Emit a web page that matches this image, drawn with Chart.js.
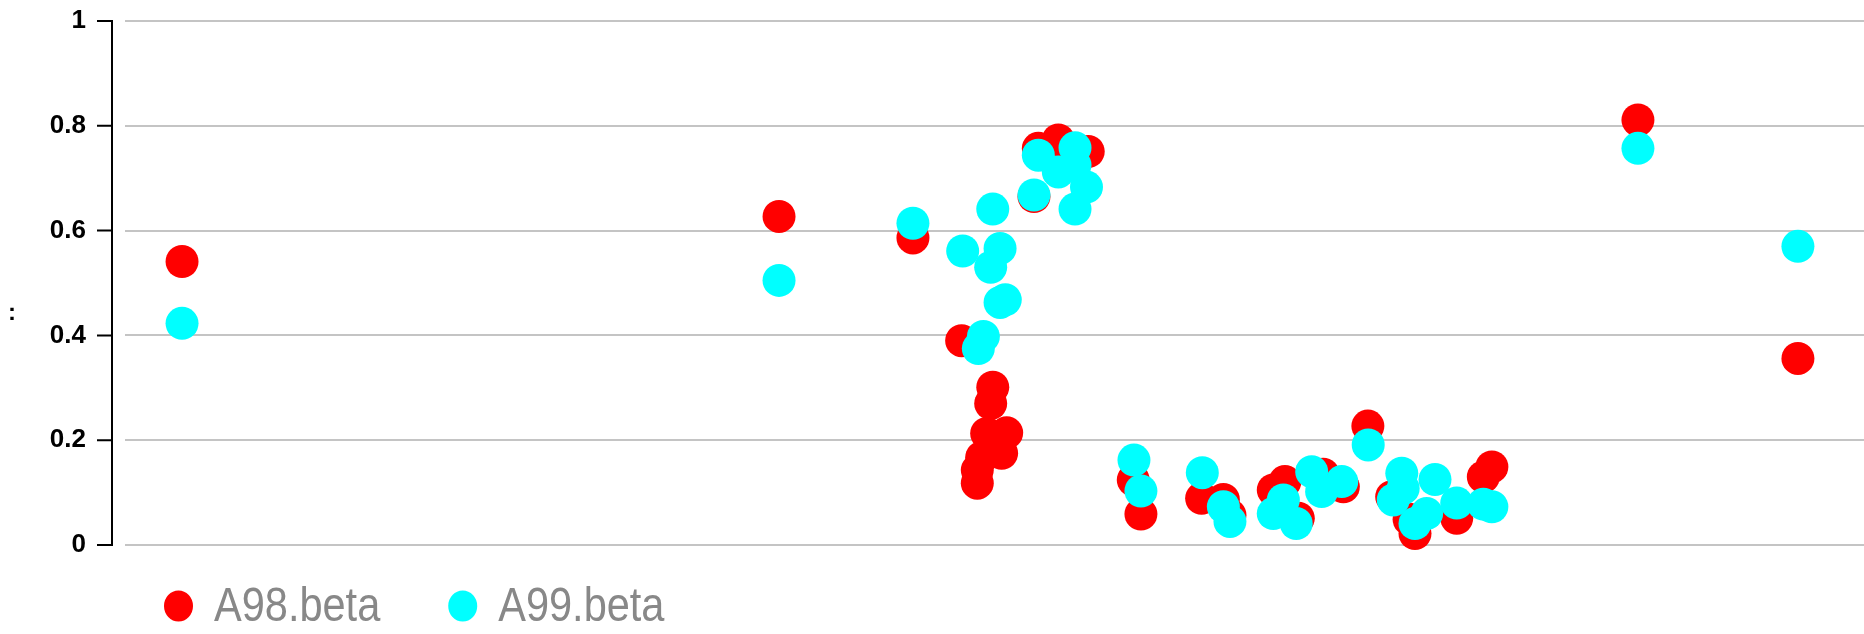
<!DOCTYPE html>
<html><head><meta charset="utf-8">
<script src="https://cdn.jsdelivr.net/npm/chart.js@4/dist/chart.umd.min.js"></script>
<style>html,body{margin:0;padding:0;background:#fff;overflow:hidden;}#wrap{width:1864px;height:634px;}canvas{display:block;}</style>
</head><body><div id="wrap"><canvas id="c" width="1864" height="634"></canvas></div>
<script>
const seriesNames = ['A98.beta', 'A99.beta'];
const seriesColors = ['#ff0000', '#00ffff'];
const yTitle = ':';
const yTicks = [0, 0.2, 0.4, 0.6, 0.8, 1];

const a98X = [32.8, 376.1, 453.1, 481.1, 499.0, 497.8, 495.5, 507.0, 504.1, 492.6,
              490.1, 490.1, 525.2, 536.7, 553.9, 522.7, 579.8, 584.2, 619.1, 631.6,
              635.4, 660.3, 667.0, 674.7, 689.0, 700.6, 714.7, 728.4, 738.4, 741.8,
              765.8, 781.1, 786.0, 870.0, 962.0];
const a98Y = [0.541, 0.627, 0.586, 0.390, 0.301, 0.270, 0.213, 0.214, 0.175, 0.167,
              0.143, 0.118, 0.757, 0.773, 0.751, 0.665, 0.124, 0.059, 0.089, 0.087,
              0.057, 0.105, 0.121, 0.051, 0.135, 0.111, 0.227, 0.092, 0.049, 0.022,
              0.051, 0.130, 0.149, 0.811, 0.356];

const a99X = [32.8, 376.1, 453.1, 481.7, 499.0, 503.2, 497.8, 503.2, 506.2, 493.6,
              490.7, 522.7, 525.2, 546.3, 546.3, 536.7, 552.9, 546.3, 580.2, 584.2,
              619.5, 631.6, 635.4, 660.3, 666.1, 673.5, 682.4, 688.1, 699.7, 714.9,
              734.2, 735.0, 729.3, 753.3, 741.8, 748.5, 765.8, 781.1, 786.0, 870.0, 962.0];
const a99Y = [0.423, 0.505, 0.614, 0.561, 0.641, 0.566, 0.530, 0.463, 0.468, 0.398,
              0.375, 0.668, 0.744, 0.758, 0.725, 0.712, 0.683, 0.641, 0.162, 0.103,
              0.138, 0.073, 0.045, 0.060, 0.086, 0.041, 0.140, 0.102, 0.121, 0.191,
              0.137, 0.108, 0.086, 0.125, 0.041, 0.060, 0.080, 0.078, 0.073, 0.757, 0.570];

const toPts = (xs, ys) => xs.map((x, i) => ({x: x, y: ys[i]}));

const axisPlugin = {
  id: 'rAxis',
  afterDraw(chart) {
    const ctx = chart.ctx, ys = chart.scales.y;
    const ax = chart.chartArea.left - 13;
    ctx.save();
    ctx.strokeStyle = '#000';
    ctx.lineWidth = 2;
    ctx.lineCap = 'square';
    ctx.beginPath();
    ctx.moveTo(ax, ys.getPixelForValue(yTicks[0]));
    ctx.lineTo(ax, ys.getPixelForValue(yTicks[yTicks.length - 1]));
    yTicks.forEach(v => {
      const py = ys.getPixelForValue(v);
      ctx.moveTo(ax - 14, py);
      ctx.lineTo(ax, py);
    });
    ctx.stroke();
    ctx.fillStyle = '#000';
    ctx.font = 'bold 24px "Liberation Sans", Arial, sans-serif';
    ctx.textAlign = 'center';
    ctx.textBaseline = 'middle';
    ctx.fillText(yTitle, 12, 313);
    // legend
    ctx.font = '48px "Liberation Sans", Arial, sans-serif';
    ctx.textAlign = 'left';
    const squeeze = 0.865;
    let x = 164;
    const cy = 606;
    chart.data.datasets.forEach(ds => {
      ctx.fillStyle = ds.backgroundColor;
      ctx.beginPath();
      ctx.ellipse(x + 14.5, cy, 14.5, 15.5, 0, 0, Math.PI * 2);
      ctx.fill();
      ctx.fillStyle = '#888888';
      ctx.save();
      ctx.translate(x + 50, cy + 2);
      ctx.scale(squeeze, 1);
      ctx.fillText(ds.label, 0, 0);
      ctx.restore();
      x += 50 + ctx.measureText(ds.label).width * squeeze + 68;
    });
    ctx.restore();
  }
};

new Chart(document.getElementById('c'), {
  type: 'scatter',
  data: {
    datasets: [
      {label: seriesNames[0], data: toPts(a98X, a98Y), backgroundColor: seriesColors[0],
       pointRadius: 16.5, pointHoverRadius: 16.5, borderWidth: 0, order: 1, clip: false},
      {label: seriesNames[1], data: toPts(a99X, a99Y), backgroundColor: seriesColors[1],
       pointRadius: 16.5, pointHoverRadius: 16.5, borderWidth: 0, order: 0, clip: false}
    ]
  },
  options: {
    responsive: false,
    animation: false,
    events: [],
    layout: {autoPadding: false, padding: {top: 21, bottom: 89, left: 0, right: 0}},
    plugins: {legend: {display: false}, tooltip: {enabled: false}},
    scales: {
      x: {type: 'linear', display: false, min: 0, max: 1000},
      y: {
        type: 'linear', min: 0, max: 1,
        afterBuildTicks: s => { s.ticks = yTicks.map(v => ({value: v})); },
        afterFit: s => { s.width = 125; s.paddingTop = 0; s.paddingBottom = 0; },
        border: {display: false},
        grid: {color: '#c4c4c4', lineWidth: 2, drawTicks: false},
        ticks: {padding: 39, color: '#000', callback: v => String(v),
                font: {family: '"Liberation Sans", Arial, sans-serif', size: 26, weight: 'bold'}}
      }
    }
  },
  plugins: [axisPlugin]
});
</script>
</body></html>
